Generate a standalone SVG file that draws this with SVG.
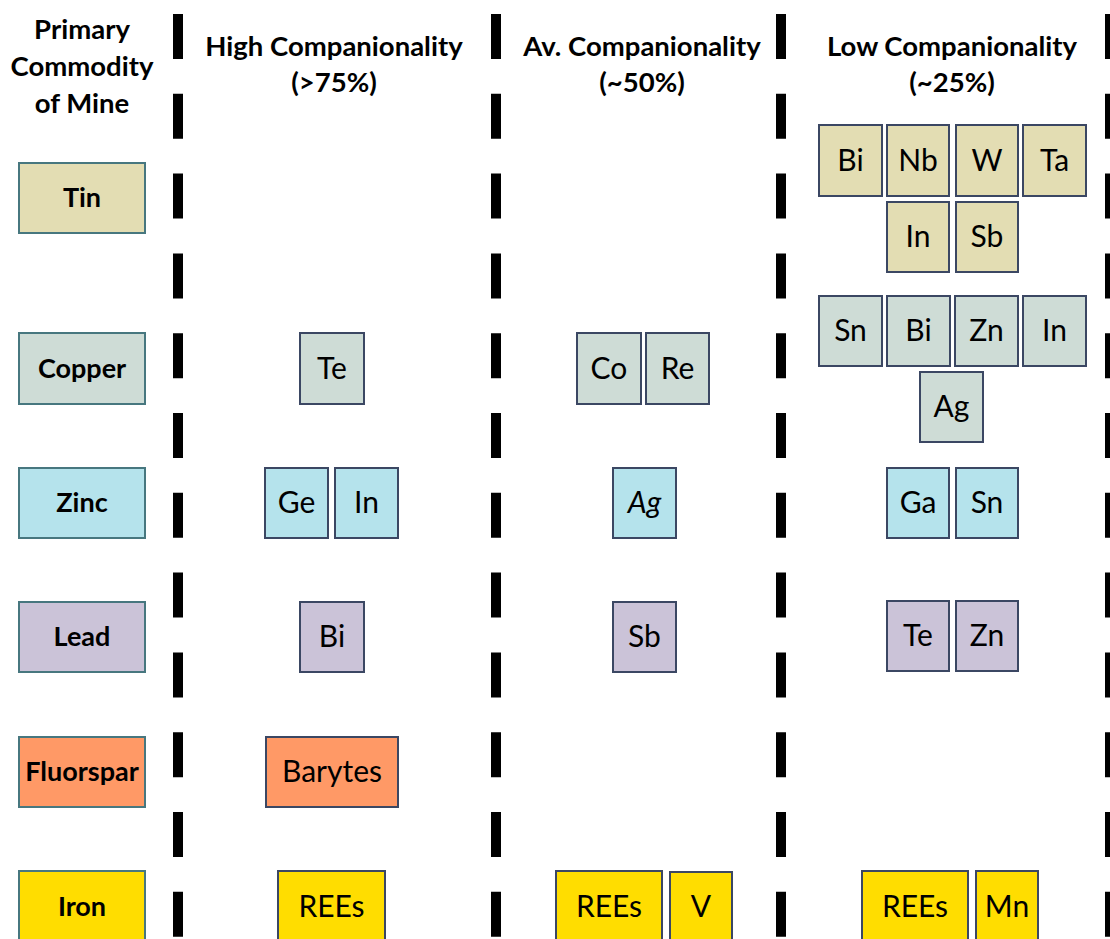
<svg xmlns="http://www.w3.org/2000/svg" width="1110" height="939" viewBox="0 0 1110 939">
<style>
.hdr{font-family:Lato,"Open Sans","Liberation Sans",sans-serif;font-weight:bold;font-size:27.5px;fill:#000;text-anchor:middle}
.prim rect{stroke:#47777f;stroke-width:2}
.prim text{font-family:Lato,"Open Sans","Liberation Sans",sans-serif;font-weight:bold;font-size:27px;fill:#000;text-anchor:middle}
.el rect{stroke:#3b4763;stroke-width:2}
.el text{font-family:Lato,"Open Sans","Liberation Sans",sans-serif;font-size:30px;fill:#000;text-anchor:middle}
.tin{fill:#e3ddb3}.cu{fill:#cedcd6}.zn{fill:#b5e3ec}.pb{fill:#cbc3d8}.fl{fill:#ff9966}.fe{fill:#ffdd00}
.sep{stroke:#000;stroke-width:10;stroke-dasharray:45 34.8}
</style>
<rect width="1110" height="939" fill="#fff"/>
<g id="separators">
<line class="sep" x1="178" y1="14" x2="178" y2="939"/>
<line class="sep" x1="496" y1="14" x2="496" y2="939"/>
<line class="sep" x1="781" y1="14" x2="781" y2="939"/>
<line class="sep" x1="1110" y1="14" x2="1110" y2="939"/>
</g>
<g id="headers">
<text class="hdr" x="82" y="39">Primary</text>
<text class="hdr" x="82" y="76">Commodity</text>
<text class="hdr" x="82" y="113">of Mine</text>
<text class="hdr" x="334" y="56">High Companionality</text>
<text class="hdr" x="334" y="92">(&gt;75%)</text>
<text class="hdr" x="642" y="56">Av. Companionality</text>
<text class="hdr" x="642" y="92">(~50%)</text>
<text class="hdr" x="952" y="56">Low Companionality</text>
<text class="hdr" x="952" y="92">(~25%)</text>
</g>
<g id="primary" class="prim">
<g id="tin"><rect class="tin" x="19" y="163" width="126" height="70"/><text x="82" y="207">Tin</text></g>
<g id="copper"><rect class="cu" x="19" y="333" width="126" height="71"/><text x="82" y="378">Copper</text></g>
<g id="zinc"><rect class="zn" x="19" y="468" width="126" height="70"/><text x="82" y="512">Zinc</text></g>
<g id="lead"><rect class="pb" x="19" y="602" width="126" height="70"/><text x="82" y="646">Lead</text></g>
<g id="fluorspar"><rect class="fl" x="19" y="737" width="126" height="70"/><text x="82" y="781">Fluorspar</text></g>
<g id="iron"><rect class="fe" x="19" y="871" width="126" height="72"/><text x="82" y="916">Iron</text></g>
</g>
<g id="elements" class="el">
<g id="tin-bi"><rect class="tin" x="819" y="125" width="63" height="71"/><text x="850.5" y="171">Bi</text></g>
<g id="tin-nb"><rect class="tin" x="887" y="125" width="62" height="71"/><text x="918" y="171">Nb</text></g>
<g id="tin-w"><rect class="tin" x="956" y="125" width="62" height="71"/><text x="987" y="171">W</text></g>
<g id="tin-ta"><rect class="tin" x="1023" y="125" width="63" height="71"/><text x="1054.5" y="171">Ta</text></g>
<g id="tin-in"><rect class="tin" x="887" y="202" width="62" height="70"/><text x="918" y="247">In</text></g>
<g id="tin-sb"><rect class="tin" x="956" y="202" width="62" height="70"/><text x="987" y="247">Sb</text></g>
<g id="cu-te"><rect class="cu" x="300" y="333" width="64" height="71"/><text x="332" y="379">Te</text></g>
<g id="cu-co"><rect class="cu" x="577" y="333" width="64" height="71"/><text x="609" y="379">Co</text></g>
<g id="cu-re"><rect class="cu" x="646" y="333" width="63" height="71"/><text x="677.5" y="379">Re</text></g>
<g id="cu-sn"><rect class="cu" x="819" y="296" width="63" height="70"/><text x="850.5" y="341">Sn</text></g>
<g id="cu-bi"><rect class="cu" x="887" y="296" width="63" height="70"/><text x="918.5" y="341">Bi</text></g>
<g id="cu-zn"><rect class="cu" x="955" y="296" width="63" height="70"/><text x="986.5" y="341">Zn</text></g>
<g id="cu-in"><rect class="cu" x="1023" y="296" width="63" height="70"/><text x="1054.5" y="341">In</text></g>
<g id="cu-ag"><rect class="cu" x="920" y="372" width="63" height="70"/><text x="951.5" y="417">Ag</text></g>
<g id="zn-ge"><rect class="zn" x="265" y="468" width="63" height="70"/><text x="296.5" y="513">Ge</text></g>
<g id="zn-in"><rect class="zn" x="335" y="468" width="63" height="70"/><text x="366.5" y="513">In</text></g>
<g id="zn-ag"><rect class="zn" x="613" y="468" width="63" height="70"/><text x="644.5" y="513" font-style="italic">Ag</text></g>
<g id="zn-ga"><rect class="zn" x="887" y="468" width="62" height="70"/><text x="918" y="513">Ga</text></g>
<g id="zn-sn"><rect class="zn" x="956" y="468" width="62" height="70"/><text x="987" y="513">Sn</text></g>
<g id="pb-bi"><rect class="pb" x="300" y="602" width="64" height="70"/><text x="332" y="647">Bi</text></g>
<g id="pb-sb"><rect class="pb" x="613" y="602" width="63" height="70"/><text x="644.5" y="647">Sb</text></g>
<g id="pb-te"><rect class="pb" x="887" y="601" width="62" height="70"/><text x="918" y="646">Te</text></g>
<g id="pb-zn"><rect class="pb" x="956" y="601" width="62" height="70"/><text x="987" y="646">Zn</text></g>
<g id="fl-barytes"><rect class="fl" x="266" y="737" width="132" height="70"/><text x="332" y="782">Barytes</text></g>
<g id="fe-rees-h"><rect class="fe" x="278" y="871" width="107" height="72"/><text x="331.5" y="917">REEs</text></g>
<g id="fe-rees-a"><rect class="fe" x="556" y="871" width="106" height="72"/><text x="609" y="917">REEs</text></g>
<g id="fe-v"><rect class="fe" x="670" y="872" width="62" height="71"/><text x="701" y="917">V</text></g>
<g id="fe-rees-l"><rect class="fe" x="862" y="871" width="106" height="72"/><text x="915" y="917">REEs</text></g>
<g id="fe-mn"><rect class="fe" x="976" y="871" width="62" height="72"/><text x="1007" y="917">Mn</text></g>
</g>
</svg>
